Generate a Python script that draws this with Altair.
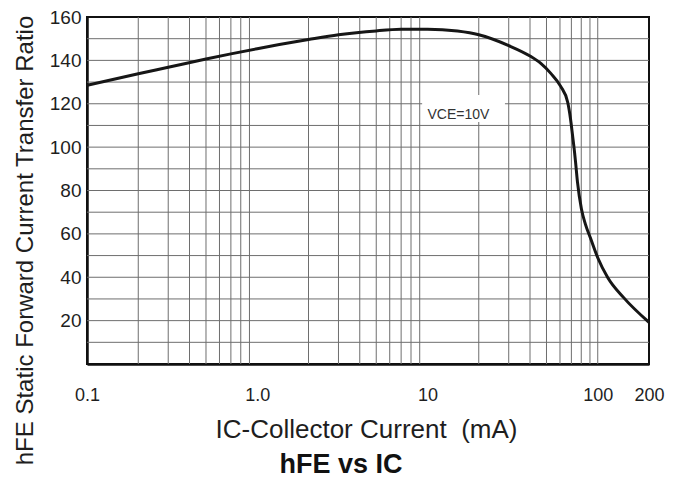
import json
import altair as alt
import pandas as pd

# ---- data ----
ic_ma = [0.1, 0.2, 0.3, 0.5, 0.7, 1, 2, 3, 5, 7, 10, 15, 20, 30, 40, 46.3, 53, 60.6, 66.6, 69.2, 71.1, 73.1, 74.1, 76, 80.2, 84.6, 90.6, 100, 114.6, 142, 200]
hfe = [128.5, 133.8, 136.8, 140.6, 143, 145.4, 149.6, 151.8, 153.6, 154.3, 154.4, 153.5, 151.8, 146.8, 142, 138.6, 134, 128, 120.7, 113, 105.5, 97.5, 93, 84, 71.5, 64.5, 58.1, 49, 39.8, 30.6, 19.2]

x_grid = [0.2, 0.3, 0.4, 0.5, 0.6, 0.7, 0.8, 0.9,
          2, 3, 4, 5, 6, 7, 8, 9,
          20, 30, 40, 50, 60, 70, 80, 90, 100]
y_grid = [10, 20, 30, 40, 50, 60, 70, 80, 90, 100, 110, 120, 130, 140, 150]

x_tick_values = [0.1, 1, 10, 100, 200]
x_tick_labels = ["0.1", "1.0", "10", "100", "200"]
y_tick_values = [20, 40, 60, 80, 100, 120, 140, 160]

note_text = ["VCE=10V"]
note_x = [15.2]
note_y = [113]
note_box_x = [9.3]
note_box_x2 = [28.5]
note_box_y = [111.6]
note_box_y2 = [124]

x_title = "IC-Collector Current \u00a0(mA)"
y_title = "hFE Static Forward Current Transfer Ratio"
chart_title = "hFE vs IC"

FONT = "Liberation Sans"
TXT = "#1e1e1e"

xscale = alt.Scale(type="log", domain=[0.1, 200])
yscale = alt.Scale(domain=[0, 160])

label_expr = f"{json.dumps(x_tick_labels)}[indexof({json.dumps(x_tick_values)}, datum.value)]"

x_axis = alt.Axis(
    values=x_tick_values, labelExpr=label_expr, grid=False, ticks=False,
    labelPadding=22, labelFontSize=18, labelFont=FONT, labelColor=TXT,
    labelFlush=False, labelOverlap=False,
    domainColor="#111", domainWidth=2.5,
    title=x_title, titleFont=FONT, titleFontSize=26, titleFontWeight="normal",
    titleColor=TXT, titleX=279, titleY=73, titleBaseline="alphabetic", titleAlign="center",
)
y_axis = alt.Axis(
    values=y_tick_values, grid=False, ticks=False,
    labelPadding=6, labelFontSize=19, labelFont=FONT, labelColor=TXT,
    labelBaseline="middle", labelFlush=False, labelOverlap=False,
    domainColor="#111", domainWidth=2.5,
    title=y_title, titleFont=FONT, titleFontSize=24, titleFontWeight="normal",
    titleColor=TXT, titleX=-55, titleY=223, titleAngle=270,
    titleBaseline="alphabetic", titleAlign="center",
)

GRID = "#6e6e6e"

vgrid = alt.Chart(pd.DataFrame({"x": x_grid})).mark_rule(
    color=GRID, strokeWidth=1
).encode(x=alt.X("x:Q", scale=xscale, axis=x_axis))

hgrid = alt.Chart(pd.DataFrame({"y": y_grid})).mark_rule(
    color=GRID, strokeWidth=1
).encode(y=alt.Y("y:Q", scale=yscale, axis=y_axis))

box = alt.Chart(pd.DataFrame({
    "x": note_box_x, "x2": note_box_x2, "y": note_box_y, "y2": note_box_y2
})).mark_rect(fill="white").encode(
    x=alt.X("x:Q", scale=xscale, axis=x_axis), x2="x2:Q",
    y=alt.Y("y:Q", scale=yscale, axis=y_axis), y2="y2:Q",
)

note = alt.Chart(pd.DataFrame({"x": note_x, "y": note_y, "t": note_text})).mark_text(
    font=FONT, fontSize=14, color="#333", align="center", baseline="alphabetic"
).encode(
    x=alt.X("x:Q", scale=xscale, axis=x_axis),
    y=alt.Y("y:Q", scale=yscale, axis=y_axis),
    text="t:N",
)

curve = alt.Chart(pd.DataFrame({"ic": ic_ma, "hfe": hfe})).mark_line(
    color="#161616", strokeWidth=3, interpolate="monotone", clip=True
).encode(
    x=alt.X("ic:Q", scale=xscale, axis=x_axis),
    y=alt.Y("hfe:Q", scale=yscale, axis=y_axis),
    order="ic:Q",
)

chart = alt.layer(vgrid, hgrid, box, note, curve).properties(
    width=562, height=347,
    background="white",
    title=alt.TitleParams(
        chart_title, orient="bottom", anchor="middle", font=FONT, fontSize=27,
        fontWeight="bold", color="#111", dx=-27, offset=-13,
    ),
    autosize=alt.AutoSizeParams(type="none"),
    padding={"left": 79, "top": 9, "right": 26, "bottom": 115},
).configure_view(stroke="#111", strokeWidth=2)

chart.save("out.html", embed_options={"renderer": "svg", "actions": False})
